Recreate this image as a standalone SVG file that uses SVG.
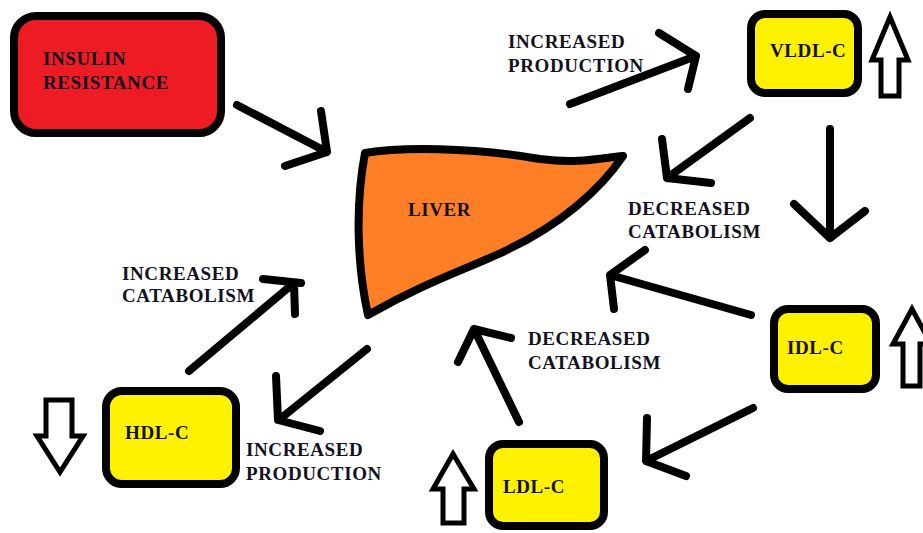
<svg xmlns="http://www.w3.org/2000/svg" width="923" height="533" viewBox="0 0 923 533">
<style>
.lbl{font-family:"Liberation Serif","Times New Roman",serif;font-weight:bold;font-size:19px;letter-spacing:0.6px;fill:#111122}
.box{stroke:#000;stroke-width:8;stroke-linejoin:round}
.y{fill:#FFF200}
.conn{fill:none;stroke:#000;stroke-width:8;stroke-linecap:round;stroke-linejoin:round}
.hollow{fill:#fff;stroke:#000;stroke-width:5;stroke-linejoin:miter}
</style>
<rect width="923" height="533" fill="#fff"/>
<g id="insulin">
<rect class="box" x="14" y="16" width="207" height="117" rx="22" fill="#ED1C24"/>
<text class="lbl" x="43" y="65">INSULIN</text>
<text class="lbl" x="43" y="89">RESISTANCE</text>
</g>
<g id="liver">
<path class="box" fill="#FF7F27" d="M365,153 C400,147 470,147 540,159 C580,164 600,158 623,156 C600,190 560,225 507,250 C470,268 430,280 368,315 C356,260 356,200 365,153 Z"/>
<text class="lbl" x="408" y="216">LIVER</text>
</g>
<g id="vldl">
<rect class="box y" x="751" y="14" width="107" height="79" rx="14"/>
<text class="lbl" x="770" y="57">VLDL-C</text>
<path class="hollow" d="M890,17 L872,60 L881,60 L881,96 L899,96 L899,60 L908,60 Z"/>
</g>
<g id="idl">
<rect class="box y" x="774" y="309" width="102" height="80" rx="14"/>
<text class="lbl" x="787" y="354">IDL-C</text>
<path class="hollow" d="M912,309 L893,344 L903,344 L903,386 L920,386 L920,344 L931,344 Z"/>
</g>
<g id="ldl">
<rect class="box y" x="489" y="444" width="115" height="82" rx="14"/>
<text class="lbl" x="503" y="493">LDL-C</text>
<path class="hollow" d="M453,454 L433,489 L443,489 L443,523 L464,523 L464,489 L474,489 Z"/>
</g>
<g id="hdl">
<rect class="box y" x="106" y="391" width="130" height="93" rx="16"/>
<text class="lbl" x="125" y="439">HDL-C</text>
<path class="hollow" d="M46,400 L72,400 L72,436 L83,436 L60,472 L37,436 L46,436 Z"/>
</g>
<g id="labels">
<text class="lbl" x="508" y="48">INCREASED</text>
<text class="lbl" x="508" y="72">PRODUCTION</text>
<text class="lbl" x="628" y="215">DECREASED</text>
<text class="lbl" x="628" y="238">CATABOLISM</text>
<text class="lbl" x="528" y="345">DECREASED</text>
<text class="lbl" x="528" y="369">CATABOLISM</text>
<text class="lbl" x="122" y="280">INCREASED</text>
<text class="lbl" x="122" y="302">CATABOLISM</text>
<text class="lbl" x="246" y="456">INCREASED</text>
<text class="lbl" x="246" y="480">PRODUCTION</text>
</g>
<g id="connectors">
<path class="conn" d="M237,105 L327,152 M321,111 L327,152 L285,166"/>
<path class="conn" d="M570,104 L696,56 M659,33 L696,56 L688,89"/>
<path class="conn" d="M750,118 L667,178 M662,139 L667,178 L711,183"/>
<path class="conn" d="M830,129 L830,238 M794,204 L830,238 L865,211"/>
<path class="conn" d="M751,315 L610,275 M645,250 L610,275 L614,309"/>
<path class="conn" d="M753,408 L646,461 M647,418 L646,461 L686,476"/>
<path class="conn" d="M519,422 L474,329 M458,362 L474,329 L511,338"/>
<path class="conn" d="M189,371 L294,283 M263,279 L301,283 M294,283 L295,314"/>
<path class="conn" d="M367,349 L280,419 M276,376 L278,420 L320,431"/>
</g>
</svg>
